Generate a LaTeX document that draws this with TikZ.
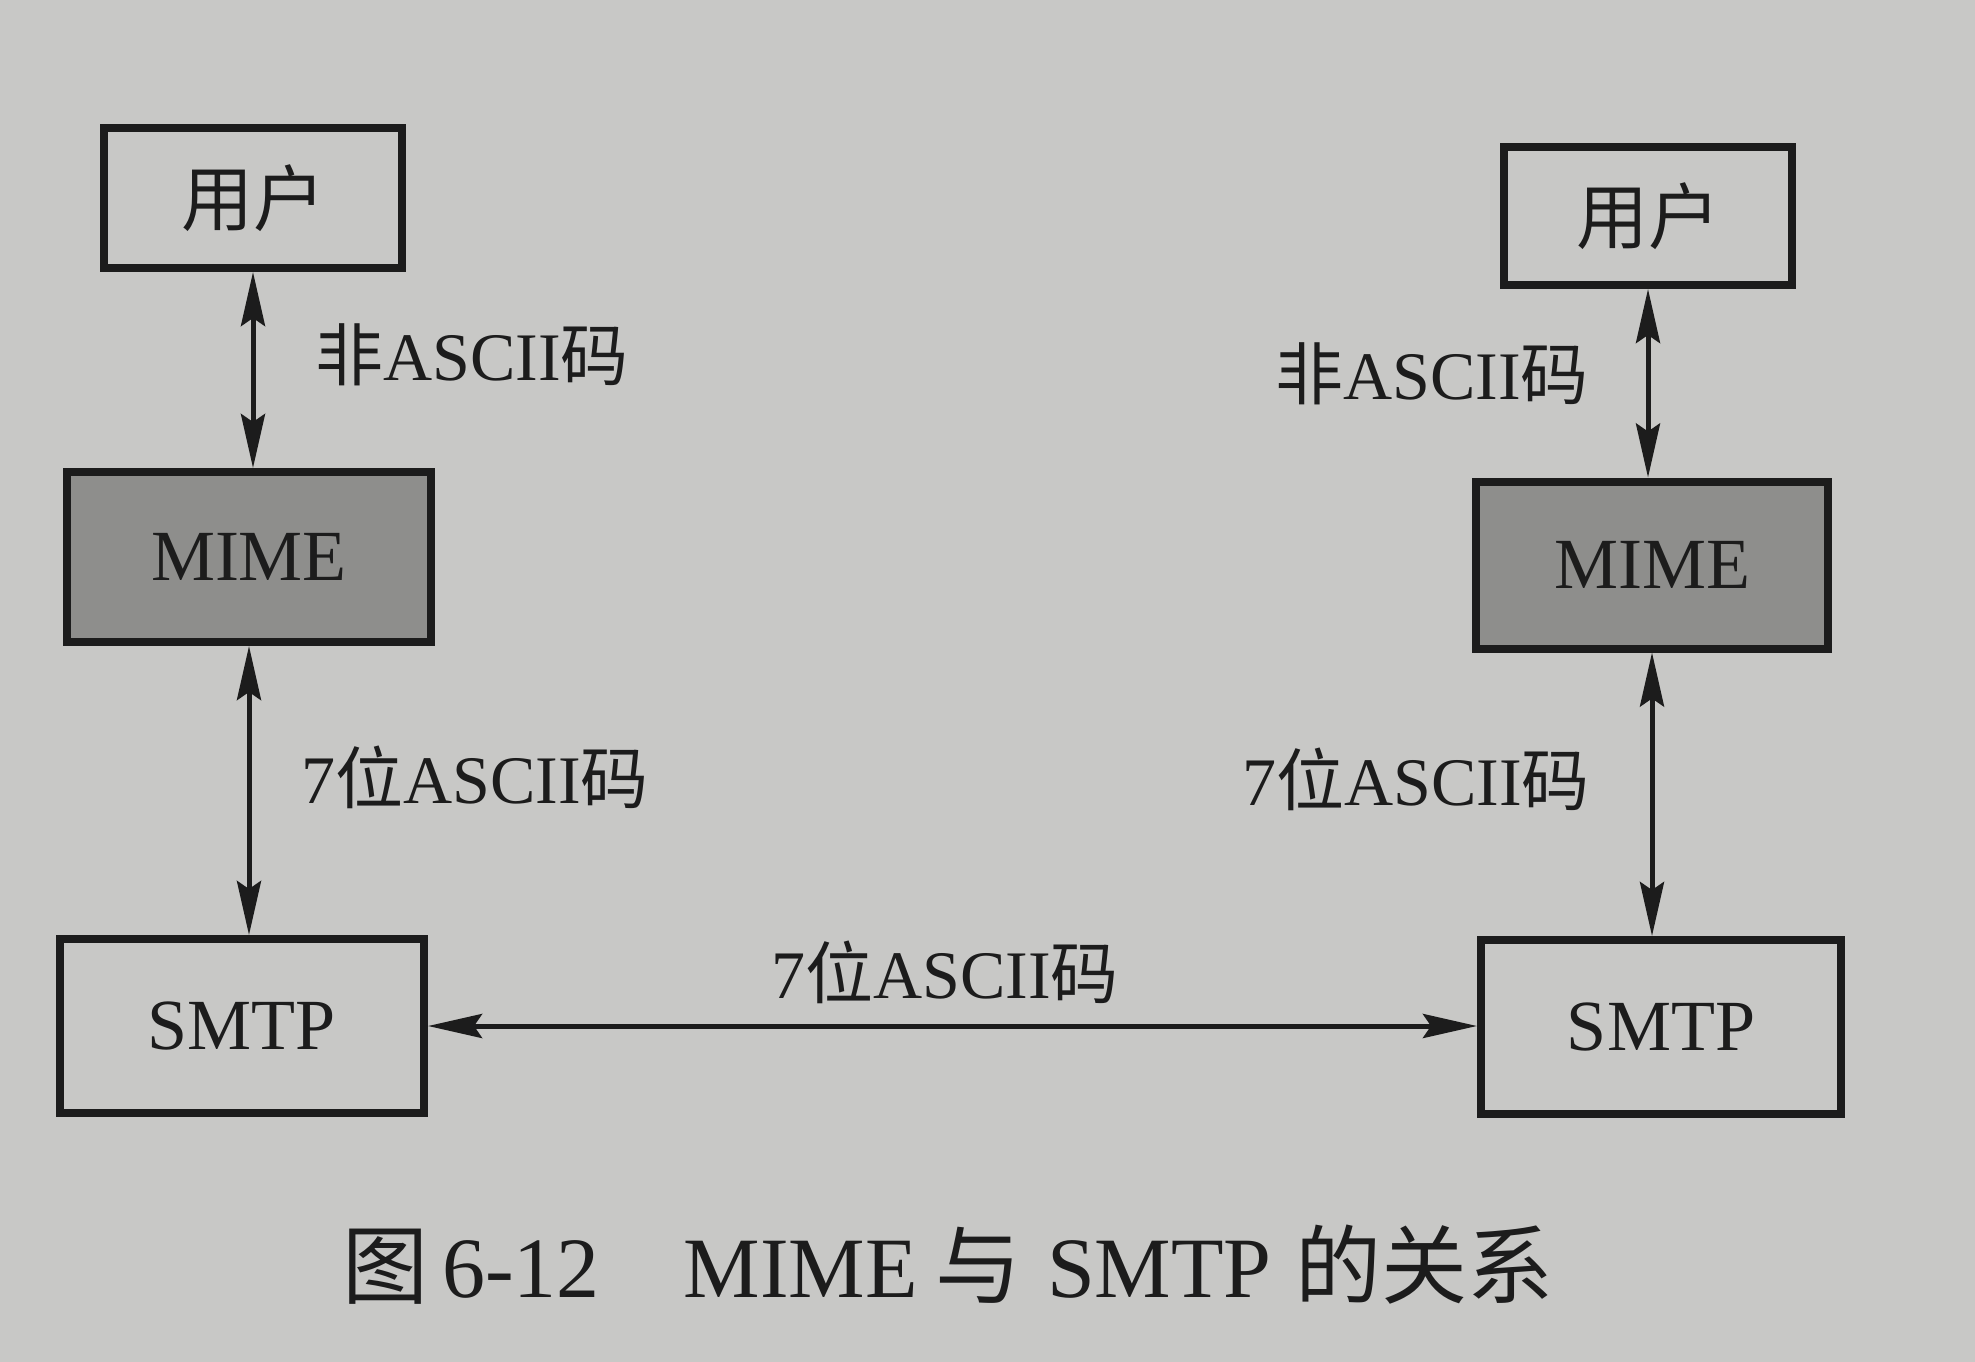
\documentclass[tikz,border=0pt]{standalone}
\usepackage{fontspec}
\setmainfont{Liberation Serif}
\newfontfamily\cjk{Noto Sans CJK SC}
\usetikzlibrary{arrows.meta}
\definecolor{paper}{RGB}{200,200,198}
\definecolor{mimefill}{RGB}{142,142,140}
\definecolor{ink}{RGB}{28,28,28}
\begin{document}
\begin{tikzpicture}[x=1pt,y=-1pt,
  box/.style={draw=ink, line width=8pt, inner sep=0pt, text=ink, font=\fontsize{72}{80}\selectfont},
  mimebox/.style={box, fill=mimefill},
  lab/.style={inner sep=0pt, text=ink, font=\fontsize{68}{76}\selectfont},
  captext/.style={inner sep=0pt, text=ink, font=\fontsize{86}{94}\selectfont},
  arr/.style={draw=ink, line width=5pt, {Stealth[length=54pt,width=24pt,inset=8pt]}-{Stealth[length=54pt,width=24pt,inset=8pt]}}
]
\fill[paper] (0,0) rectangle (1975,1362);
\useasboundingbox (0,0) rectangle (1975,1362);

\node[box, minimum width=298pt, minimum height=140pt] (u1) at (253,198) {\cjk 用户};
\node[mimebox, minimum width=364pt, minimum height=170pt] (m1) at (249,557) {MIME};
\node[box, minimum width=364pt, minimum height=174pt] (s1) at (242,1026) {SMTP};

\node[box, minimum width=288pt, minimum height=138pt] (u2) at (1648,216) {\cjk 用户};
\node[mimebox, minimum width=352pt, minimum height=167pt] (m2) at (1652,565) {MIME};
\node[box, minimum width=360pt, minimum height=174pt] (s2) at (1661,1027) {SMTP};

\draw[arr] (u1.south) -- (u1.south |- m1.north);
\draw[arr] (m1.south) -- (m1.south |- s1.north);
\draw[arr] (u2.south) -- (u2.south |- m2.north);
\draw[arr] (m2.south) -- (m2.south |- s2.north);
\draw[arr] (s1.east) -- (s1.east -| s2.west);

\node[lab] (l1) at (472,355) {{\cjk 非}ASCII{\cjk 码}};
\node[lab] (l2) at (1432,374) {{\cjk 非}ASCII{\cjk 码}};
\node[lab] (l3) at (475,777) {7{\cjk 位}ASCII{\cjk 码}};
\node[lab] (l4) at (1416,779) {7{\cjk 位}ASCII{\cjk 码}};
\node[lab] (l5) at (945,972) {7{\cjk 位}ASCII{\cjk 码}};

\node[captext] (caption) at (948,1265) {{\cjk 图}\hspace{14pt}6-12\hspace{84pt}MIME\hspace{17pt}{\cjk 与}\hspace{26pt}SMTP\hspace{24pt}{\cjk 的关系}};
\end{tikzpicture}
\end{document}
